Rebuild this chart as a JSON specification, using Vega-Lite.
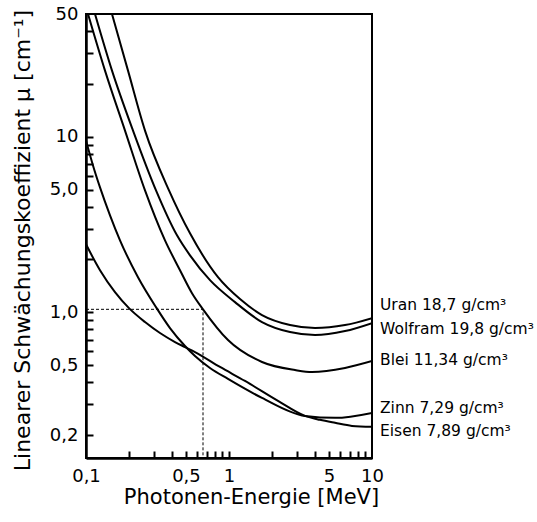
{
  "$schema": "https://vega.github.io/schema/vega-lite/v6.json",
  "width": 286,
  "height": 444,
  "autosize": {"type": "none"},
  "padding": {"left": 86, "top": 14, "right": 165, "bottom": 64},
  "background": "white",
  "config": {
    "view": {"stroke": "black", "strokeWidth": 2},
    "font": "DejaVu Sans"
  },
  "datasets": {
    "curves": [
      {"material": "Uran", "E": 0.152, "mu": 50},
      {"material": "Uran", "E": 0.1967, "mu": 23.8},
      {"material": "Uran", "E": 0.2586, "mu": 10.84},
      {"material": "Uran", "E": 0.3805, "mu": 4.95},
      {"material": "Uran", "E": 0.5337, "mu": 2.818},
      {"material": "Uran", "E": 0.8377, "mu": 1.585},
      {"material": "Uran", "E": 1.194, "mu": 1.189},
      {"material": "Uran", "E": 1.701, "mu": 0.964},
      {"material": "Uran", "E": 2.671, "mu": 0.846},
      {"material": "Uran", "E": 3.995, "mu": 0.813},
      {"material": "Uran", "E": 6.476, "mu": 0.846},
      {"material": "Uran", "E": 10, "mu": 0.927},
      {"material": "Wolfram", "E": 0.1156, "mu": 50},
      {"material": "Wolfram", "E": 0.152, "mu": 23.8},
      {"material": "Wolfram", "E": 0.2132, "mu": 10.84},
      {"material": "Wolfram", "E": 0.3087, "mu": 4.95},
      {"material": "Wolfram", "E": 0.4329, "mu": 2.745},
      {"material": "Wolfram", "E": 0.5337, "mu": 2.11},
      {"material": "Wolfram", "E": 0.7364, "mu": 1.524},
      {"material": "Wolfram", "E": 1.1015, "mu": 1.143},
      {"material": "Wolfram", "E": 1.701, "mu": 0.88},
      {"material": "Wolfram", "E": 2.671, "mu": 0.772},
      {"material": "Wolfram", "E": 3.995, "mu": 0.742},
      {"material": "Wolfram", "E": 6.476, "mu": 0.782},
      {"material": "Wolfram", "E": 10, "mu": 0.868},
      {"material": "Blei", "E": 0.1033, "mu": 50},
      {"material": "Blei", "E": 0.1358, "mu": 23.8},
      {"material": "Blei", "E": 0.1874, "mu": 10.84},
      {"material": "Blei", "E": 0.2586, "mu": 4.95},
      {"material": "Blei", "E": 0.3568, "mu": 2.57},
      {"material": "Blei", "E": 0.4543, "mu": 1.737},
      {"material": "Blei", "E": 0.5512, "mu": 1.285},
      {"material": "Blei", "E": 0.658, "mu": 1.04},
      {"material": "Blei", "E": 0.984, "mu": 0.695},
      {"material": "Blei", "E": 1.701, "mu": 0.521},
      {"material": "Blei", "E": 2.894, "mu": 0.469},
      {"material": "Blei", "E": 3.806, "mu": 0.457},
      {"material": "Blei", "E": 6.476, "mu": 0.482},
      {"material": "Blei", "E": 10, "mu": 0.528},
      {"material": "Zinn", "E": 0.1, "mu": 9.51},
      {"material": "Zinn", "E": 0.1119, "mu": 6.863},
      {"material": "Zinn", "E": 0.1253, "mu": 5.145},
      {"material": "Zinn", "E": 0.1472, "mu": 3.567},
      {"material": "Zinn", "E": 0.1729, "mu": 2.57},
      {"material": "Zinn", "E": 0.231, "mu": 1.585},
      {"material": "Zinn", "E": 0.3087, "mu": 1.07},
      {"material": "Zinn", "E": 0.3867, "mu": 0.813},
      {"material": "Zinn", "E": 0.4924, "mu": 0.6426},
      {"material": "Zinn", "E": 0.5784, "mu": 0.5638},
      {"material": "Zinn", "E": 0.7364, "mu": 0.482},
      {"material": "Zinn", "E": 0.984, "mu": 0.4173},
      {"material": "Zinn", "E": 1.701, "mu": 0.3255},
      {"material": "Zinn", "E": 3.4, "mu": 0.257},
      {"material": "Zinn", "E": 5.512, "mu": 0.2505},
      {"material": "Zinn", "E": 10, "mu": 0.2675},
      {"material": "Eisen", "E": 0.1, "mu": 2.44},
      {"material": "Eisen", "E": 0.1253, "mu": 1.737},
      {"material": "Eisen", "E": 0.1595, "mu": 1.303},
      {"material": "Eisen", "E": 0.1998, "mu": 1.056},
      {"material": "Eisen", "E": 0.2586, "mu": 0.88},
      {"material": "Eisen", "E": 0.3292, "mu": 0.762},
      {"material": "Eisen", "E": 0.4192, "mu": 0.677},
      {"material": "Eisen", "E": 0.4924, "mu": 0.634},
      {"material": "Eisen", "E": 0.5784, "mu": 0.594},
      {"material": "Eisen", "E": 0.8651, "mu": 0.4882},
      {"material": "Eisen", "E": 1.294, "mu": 0.4064},
      {"material": "Eisen", "E": 2.201, "mu": 0.313},
      {"material": "Eisen", "E": 3.4, "mu": 0.257},
      {"material": "Eisen", "E": 4.329, "mu": 0.2441},
      {"material": "Eisen", "E": 5.512, "mu": 0.2347},
      {"material": "Eisen", "E": 7.246, "mu": 0.2255},
      {"material": "Eisen", "E": 10, "mu": 0.2227}
    ],
    "labels": [
      {"label": "Uran 18,7 g/cm³", "E": 10, "mu": 1.099},
      {"label": "Wolfram 19,8 g/cm³", "E": 10, "mu": 0.803},
      {"label": "Blei 11,34 g/cm³", "E": 10, "mu": 0.535},
      {"label": "Zinn 7,29 g/cm³", "E": 10, "mu": 0.2855},
      {"label": "Eisen 7,89 g/cm³", "E": 10, "mu": 0.211}
    ],
    "dash": [
      {"i": 1, "E": 0.1, "mu": 1.04},
      {"i": 2, "E": 0.658, "mu": 1.04},
      {"i": 3, "E": 0.658, "mu": 0.148}
    ]
  },
  "resolve": {"axis": {"x": "independent", "y": "independent"}},
  "layer": [
    {
      "data": {"name": "dash"},
      "mark": {"type": "line", "color": "black", "strokeWidth": 1, "strokeDash": [3, 2]},
      "encoding": {
        "x": {
          "field": "E", "type": "quantitative",
          "axis": {
            "orient": "top", "offset": -444,
            "values": [0.2, 0.3, 0.4, 0.5, 0.6, 0.7, 0.8, 0.9, 1, 2, 3, 4, 5, 6, 7, 8, 9],
            "labels": false, "domain": false, "grid": false, "title": null,
            "ticks": true, "tickSize": 7, "tickWidth": 2, "tickColor": "black"
          }
        },
        "y": {
          "field": "mu", "type": "quantitative",
          "axis": {
            "orient": "right", "offset": -286,
            "values": [0.2, 0.3, 0.4, 0.5, 0.6, 0.7, 0.8, 0.9, 1, 2, 3, 4, 5, 6, 7, 8, 9, 10, 20, 30, 40],
            "labels": false, "domain": false, "grid": false, "title": null,
            "ticks": true, "tickSize": 7, "tickWidth": 2, "tickColor": "black"
          }
        },
        "order": {"field": "i", "type": "quantitative"}
      }
    },
    {
      "data": {"name": "curves"},
      "mark": {"type": "line", "color": "black", "interpolate": "monotone", "clip": true},
      "encoding": {
        "x": {
          "field": "E", "type": "quantitative",
          "scale": {"type": "log", "domain": [0.1, 10], "nice": false},
          "axis": {
            "orient": "bottom",
            "values": [0.1, 0.5, 1, 5, 10],
            "labelExpr": "datum.value == 0.1 ? '0,1' : datum.value == 0.5 ? '0,5' : datum.value == 1 ? '1' : datum.value == 5 ? '5' : '10'",
            "grid": false, "ticks": false,
            "domainColor": "black", "domainWidth": 2.5,
            "labelFont": "DejaVu Sans", "labelFontSize": 18, "labelColor": "black",
            "labelPadding": 9, "labelFlush": false, "labelOverlap": false, "labelBound": false,
            "title": "Photonen-Energie [MeV]",
            "titleFont": "DejaVu Sans", "titleFontSize": 21, "titleFontWeight": "normal", "titleColor": "black",
            "titleX": 165, "titleY": 28, "titleBaseline": "top"
          }
        },
        "y": {
          "field": "mu", "type": "quantitative",
          "scale": {"type": "log", "domain": [0.148, 50], "nice": false},
          "axis": {
            "orient": "left",
            "values": [0.2, 0.5, 1, 5, 10, 50],
            "labelExpr": "datum.value == 50 ? '50' : datum.value == 10 ? '10' : datum.value == 5 ? '5,0' : datum.value == 1 ? '1,0' : datum.value == 0.5 ? '0,5' : '0,2'",
            "grid": false, "ticks": false,
            "domainColor": "black", "domainWidth": 2.5,
            "labelFont": "DejaVu Sans", "labelFontSize": 18, "labelColor": "black",
            "labelPadding": 8, "labelOverlap": false, "labelBound": false,
            "title": "Linearer Schwächungskoeffizient  μ [cm⁻¹]",
            "titleFont": "DejaVu Sans", "titleFontSize": 22, "titleFontWeight": "normal", "titleColor": "black",
            "titleX": -57, "titleY": 226, "titleBaseline": "alphabetic"
          }
        },
        "detail": {"field": "material", "type": "nominal"},
        "strokeWidth": {
          "field": "material", "type": "nominal",
          "scale": {"domain": ["Uran", "Wolfram", "Blei", "Zinn", "Eisen"], "range": [2, 2, 3, 2, 2]},
          "legend": null
        }
      }
    },
    {
      "data": {"name": "labels"},
      "mark": {"type": "text", "align": "left", "baseline": "middle", "dx": 8, "font": "DejaVu Sans", "fontSize": 15.5, "color": "black"},
      "encoding": {
        "x": {"field": "E", "type": "quantitative", "axis": null},
        "y": {"field": "mu", "type": "quantitative", "axis": null},
        "text": {"field": "label", "type": "nominal"}
      }
    }
  ]
}
